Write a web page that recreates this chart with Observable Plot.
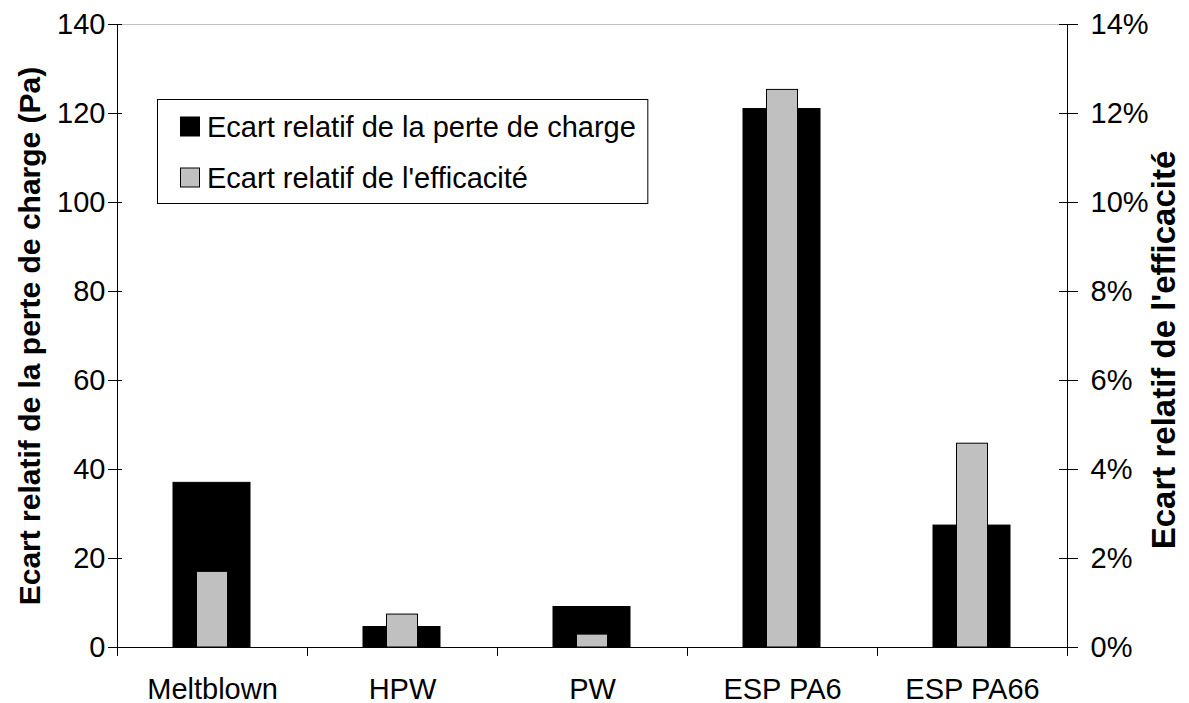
<!DOCTYPE html>
<html><head><meta charset="utf-8">
<script src="https://cdn.jsdelivr.net/npm/d3@7"></script>
<script src="https://cdn.jsdelivr.net/npm/@observablehq/plot@0.6"></script>
<style>
body{margin:0;background:#fff;}
#chart{position:relative;width:1189px;height:703px;font-family:"Liberation Sans",Arial,sans-serif;}
#legend{position:absolute;left:0;top:0;overflow:visible;}
</style></head><body><div id="chart"></div>
<script>
const categories = ["Meltblown", "HPW", "PW", "ESP PA6", "ESP PA66"];
const pressureDrop = [37, 4.6, 9.1, 121, 27.4];      // Pa (left axis)
const efficiency = [1.7, 0.74, 0.29, 12.53, 4.58];   // % (right axis)
const leftTicks = [0, 20, 40, 60, 80, 100, 120, 140];
const rightTickLabels = ["0%", "2%", "4%", "6%", "8%", "10%", "12%", "14%"];
const seriesNames = ["Ecart relatif de la perte de charge", "Ecart relatif de l'efficacité"];
const seriesColors = ["#000000", "#c0c0c0"];
const leftTitle = "Ecart relatif de la perte de charge (Pa)";
const rightTitle = "Ecart relatif de l'efficacité";
const pctToLeft = 140 / 14;

const chart = Plot.plot({
  width: 1189, height: 703,
  marginLeft: 117, marginRight: 122, marginTop: 24, marginBottom: 56,
  style: {fontFamily: "Liberation Sans, Arial, sans-serif", fontSize: "29px", color: "#000", background: "white", overflow: "visible"},
  x: {domain: categories, padding: 0, axis: null},
  y: {domain: [0, 140], axis: null},
  marks: [
    Plot.ruleY([140], {stroke: "#c0c0c0"}),
    Plot.barY(categories, {x: d => d, y: (d, i) => pressureDrop[i], fill: seriesColors[0], stroke: "#000", strokeWidth: 1, insetLeft: 56, insetRight: 57}),
    Plot.barY(categories, {x: d => d, y: (d, i) => efficiency[i] * pctToLeft, fill: seriesColors[1], stroke: "#000", strokeWidth: 1, insetLeft: 79.5, insetRight: 79.5}),
    Plot.ruleY([0], {stroke: "#000"}),
    Plot.ruleX([categories[0]], {dx: -95, y1: -2, y2: 140, stroke: "#000"}),
    Plot.ruleX([categories[categories.length - 1]], {dx: 95, y1: -2, y2: 140, stroke: "#000"}),
    Plot.ruleX(categories.slice(1), {dx: -95, y1: -2, y2: 0, stroke: "#000"}),
    Plot.axisY(leftTicks, {anchor: "left", tickSize: 14, dx: 5, tickPadding: 3, fontSize: 29, label: null}),
    Plot.axisY(leftTicks, {anchor: "right", tickSize: 19, dx: -9, tickPadding: 13, fontSize: 29, label: null,
      tickFormat: d => rightTickLabels[leftTicks.indexOf(d)]}),
    Plot.axisX({tickSize: 0, tickPadding: 31, fontSize: 29, label: null}),
    Plot.text([leftTitle], {frameAnchor: "left", textAnchor: "middle", rotate: -90, dx: -87, fontWeight: "bold", fontSize: 30}),
    Plot.text([rightTitle], {frameAnchor: "right", textAnchor: "middle", rotate: -90, dx: 97, dy: 14, fontWeight: "bold", fontSize: 33})
  ]
});
document.getElementById("chart").appendChild(chart);

// legend box overlay
const lg = d3.select("#chart").append("svg").attr("id", "legend").attr("width", 1189).attr("height", 703);
const box = lg.append("rect").attr("x", 157.5).attr("y", 99.5).attr("height", 104).attr("fill", "white").attr("stroke", "#000");
const rows = [126.5, 177.5];
let maxEnd = 0;
seriesNames.forEach((name, i) => {
  lg.append("rect").attr("x", 180.5).attr("y", rows[i] - 9.5).attr("width", 19).attr("height", 19)
    .attr("fill", seriesColors[i]).attr("stroke", "#000");
  const t = lg.append("text").attr("x", 207).attr("y", rows[i] + 10).attr("font-size", 29)
    .attr("font-family", "Liberation Sans, Arial, sans-serif").text(name);
  maxEnd = Math.max(maxEnd, 207 + t.node().getComputedTextLength());
});
box.attr("width", maxEnd + 12 - 157.5);
</script></body></html>
